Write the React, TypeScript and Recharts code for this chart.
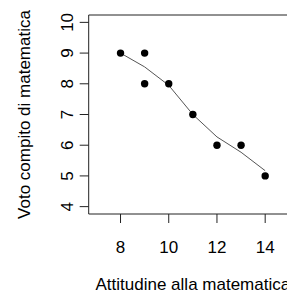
import React from 'react';
import { ScatterChart, Scatter, XAxis, YAxis, ReferenceArea } from 'recharts';

// observed points
const attitude = [8, 9, 9, 10, 11, 12, 13, 14];
const grade = [9, 9, 8, 8, 7, 6, 6, 5];

// smoothed (lowess) curve
const fitX = [8, 9, 10, 11, 12, 13, 14];
const fitY = [9.0, 8.55, 7.95, 7.0, 6.27, 5.77, 5.17];

const xTicks = [8, 10, 12, 14];
const yTicks = [4, 5, 6, 7, 8, 9, 10];
const xDomain = [6.68, 15.32];
const yDomain = [3.76, 10.24];

const FONT = '"Liberation Sans", Arial, sans-serif';
const INK = '#222';

const points = attitude.map((x, i) => ({ x, y: grade[i] }));
const fit = fitX.map((x, i) => ({ x, y: fitY[i] }));

const YTick = (props: any) => {
  const { x, y, payload } = props;
  return (
    <text
      x={x}
      y={y}
      transform={`rotate(-90 ${x} ${y})`}
      textAnchor="middle"
      fontSize={17}
      fontFamily={FONT}
      fill="#000"
    >
      {payload.value}
    </text>
  );
};

const XTick = (props: any) => {
  const { x, y, payload } = props;
  return (
    <text x={x} y={y} dy={12} textAnchor="middle" fontSize={17} fontFamily={FONT} fill="#000">
      {payload.value}
    </text>
  );
};

const Dot = (props: any) => {
  const { cx, cy } = props;
  return <circle cx={cx} cy={cy} r={3.7} fill="#000" />;
};

const NoDot = () => null;

const XTitle = (props: any) => {
  const { viewBox } = props;
  const cx = viewBox.x + viewBox.width / 2;
  return (
    <text x={cx} y={290} textAnchor="middle" fontSize={17} fontFamily={FONT} fill="#000">
      Attitudine alla matematica
    </text>
  );
};

const YTitle = (props: any) => {
  const { viewBox } = props;
  const cx = 30;
  const cy = viewBox.y + viewBox.height / 2;
  return (
    <text
      x={cx}
      y={cy}
      transform={`rotate(-90 ${cx} ${cy})`}
      textAnchor="middle"
      fontSize={17}
      fontFamily={FONT}
      fill="#000"
    >
      Voto compito di matematica
    </text>
  );
};

export default function App() {
  return (
    <div
      style={{
        position: 'absolute',
        left: 0,
        top: 0,
        width: 287,
        height: 294,
        overflow: 'hidden',
        background: '#fff',
      }}
    >
      <ScatterChart width={297} height={294} margin={{ top: 15, right: 0, bottom: 0, left: 0 }}>
        <XAxis
          type="number"
          dataKey="x"
          domain={xDomain}
          ticks={xTicks}
          allowDataOverflow
          height={80}
          axisLine={false}
          tickLine={{ stroke: INK }}
          tickSize={9}
          tickMargin={18}
          tick={<XTick />}
          label={<XTitle />}
        />
        <YAxis
          type="number"
          dataKey="y"
          domain={yDomain}
          ticks={yTicks}
          allowDataOverflow
          width={88.7}
          axisLine={false}
          tickLine={{ stroke: INK }}
          tickSize={9}
          tickMargin={7}
          tick={<YTick />}
          label={<YTitle />}
        />
        <ReferenceArea
          x1={xDomain[0]}
          x2={xDomain[1]}
          y1={yDomain[0]}
          y2={yDomain[1]}
          fill="none"
          stroke={INK}
          strokeWidth={1}
          ifOverflow="visible"
        />
        <Scatter
          data={fit}
          line={{ stroke: '#555', strokeWidth: 1 }}
          shape={<NoDot />}
          isAnimationActive={false}
        />
        <Scatter data={points} shape={<Dot />} isAnimationActive={false} />
      </ScatterChart>
    </div>
  );
}
